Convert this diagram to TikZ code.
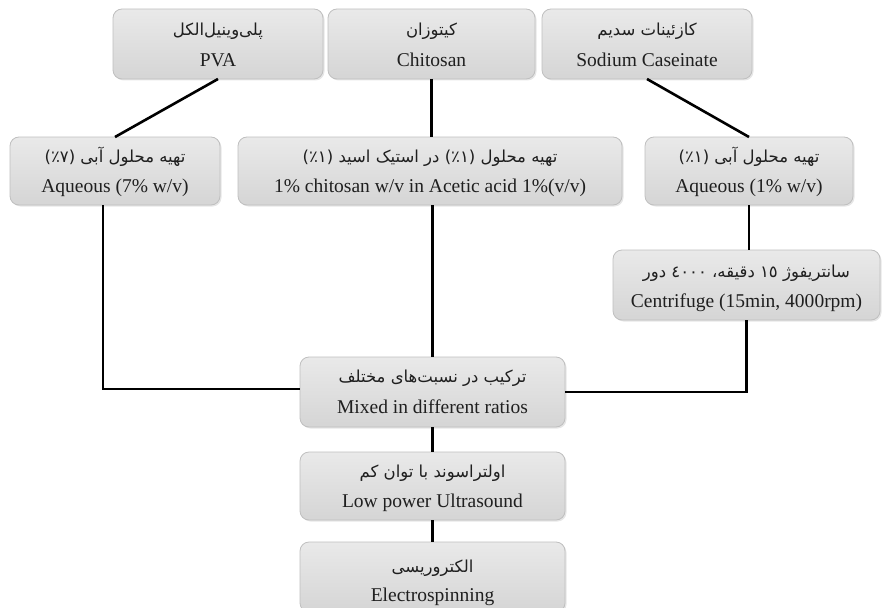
\documentclass[tikz,border=0pt]{standalone}
\usepackage{fontspec}
\setmainfont{Liberation Serif}
\newfontfamily\fa[Script=Arabic]{DejaVu Sans}
\TeXXeTstate=1
\usetikzlibrary{shadows}
\tikzset{
  boxsty/.style={draw=gray!50, line width=0.8pt, rounded corners=9pt,
    top color=gray!17, bottom color=gray!33, inner sep=0pt, outer sep=0pt,
    drop shadow={opacity=0.2, shadow xshift=1.5pt, shadow yshift=-1.5pt}},
  link/.style={line width=2.6pt, black},
  fatext/.style={anchor=base, font=\fa\fontsize{16.5}{18}\selectfont, text=black!88},
  entext/.style={anchor=base, font=\fontsize{19.5}{22}\selectfont, text=black!88},
}
% name, cx, cy, w, h, persian, english, fa offset, en offset
\newcommand\mkbox[9]{%
  \node[boxsty, minimum width=#4pt, minimum height=#5pt] (#1) at (#2,#3) {};
  \node[fatext] (#1-fa) at ([yshift=-#8pt]#1.north) {#6};
  \node[entext] (#1-en) at ([yshift=-#9pt]#1.north) {#7};
}
\begin{document}
\begin{tikzpicture}[x=1pt,y=-1pt]
\useasboundingbox (0,0) rectangle (882,607);
\mkbox{pva}{218}{44}{210}{70}{\beginR پلی‌وینیل‌الکل\endR}{PVA}{27}{58}
\mkbox{chi}{431.5}{44}{207}{70}{\beginR کیتوزان\endR}{Chitosan}{27}{58}
\mkbox{sod}{647}{44}{210}{70}{\beginR کازئینات سدیم\endR}{Sodium Caseinate}{27}{58}
\mkbox{aqL}{115}{171}{210}{68}{\beginR تهیه محلول آبی (٪۷)\endR}{Aqueous (7\% w/v)}{25}{55}
\mkbox{acid}{430}{171}{384}{68}{\beginR تهیه محلول (٪۱) در استیک اسید (٪۱)\endR}{1\% chitosan w/v in Acetic acid 1\%(v/v)}{25}{55}
\mkbox{aqR}{749}{171}{208}{68}{\beginR تهیه محلول آبی (٪۱)\endR}{Aqueous (1\% w/v)}{25}{55}
\mkbox{cent}{746.5}{285}{267}{70}{\beginR سانتریفوژ ١٥ دقیقه، ٤٠٠٠ دور\endR}{Centrifuge (15min, 4000rpm)}{27}{57}
\mkbox{mix}{432.5}{392}{265}{70}{\beginR ترکیب در نسبت‌های مختلف\endR}{Mixed in different ratios}{25}{56}
\mkbox{ultra}{432.5}{486}{265}{68}{\beginR اولتراسوند با توان کم\endR}{Low power Ultrasound}{25}{55}
\mkbox{elec}{432.5}{577}{265}{70}{\beginR الکتروریسی\endR}{Electrospinning}{30}{59}
% connectors
\draw[link] (pva.south) -- (aqL.north);
\draw[link] (chi.south) -- (chi.south |- acid.north);
\draw[link] (sod.south) -- (aqR.north);
\draw[link] ([xshift=-12pt]aqL.south) |- ([yshift=3pt]mix.west);
\draw[link] (acid.south -| mix.north) -- (mix.north);
\draw[link] (aqR.south) -- (aqR.south |- cent.north);
\draw[link] (cent.south) |- (mix.east);
\draw[link] (mix.south) -- (ultra.north);
\draw[link] (ultra.south) -- (elec.north);
\end{tikzpicture}
\end{document}
